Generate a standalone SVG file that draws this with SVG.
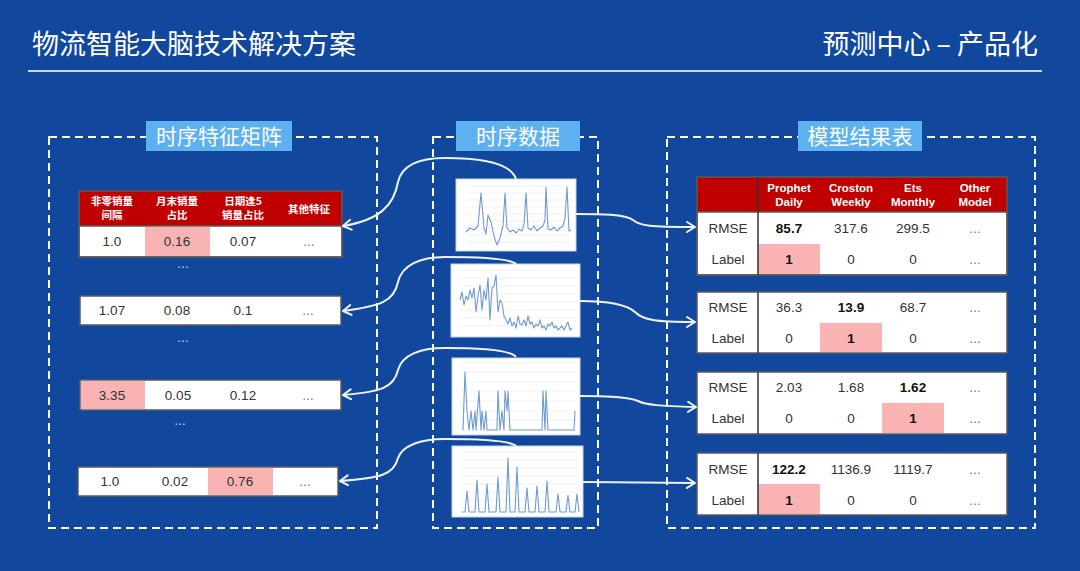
<svg xmlns="http://www.w3.org/2000/svg" width="1080" height="571" viewBox="0 0 1080 571">
<defs>
<style>
.title{font-family:"Noto Sans CJK SC","Liberation Sans",sans-serif;font-size:27px;fill:#ffffff}
.dash{fill:none;stroke:#ffffff;stroke-width:2;stroke-dasharray:8 5}
.lbl{fill:#5cb1ee}
.lbltxt{font-family:"Noto Sans CJK SC","Liberation Sans",sans-serif;font-size:21px;fill:#ffffff;text-anchor:middle}
.tbl{fill:#ffffff;stroke:#5a5a5a;stroke-width:1.5}
.hdr{fill:#c00000}
.pink{fill:#f9b3b3}
.htxt{font-family:"Noto Sans CJK SC","Liberation Sans",sans-serif;font-size:10.5px;font-weight:bold;fill:#ffffff;text-anchor:middle}
.rhtxt{font-family:"Liberation Sans",Arial,sans-serif;font-size:11.5px;font-weight:bold;fill:#ffffff;text-anchor:middle}
.val{font-family:"Liberation Sans",Arial,sans-serif;font-size:13.5px;fill:#333333;text-anchor:middle}
.b{font-weight:bold;fill:#111111}
.dots{font-family:"Liberation Sans",Arial,sans-serif;font-size:12px;fill:#666666;text-anchor:middle}
.wdots{font-family:"Liberation Sans",Arial,sans-serif;font-size:12px;fill:#cfe0f7;text-anchor:middle}
.chart{fill:#ffffff;stroke:#c8d4e6;stroke-width:1}
.grid{stroke:#e6e6e6;stroke-width:0.6}
.line{fill:none;stroke:#6f9bd1;stroke-width:1.1;stroke-linejoin:round}
.conn{fill:none;stroke:#eef3fb;stroke-width:2}
.div{stroke:#333333;stroke-width:1.5}
</style>
<marker id="arr" markerWidth="12" markerHeight="12" refX="9" refY="6" orient="auto" markerUnits="userSpaceOnUse">
<path d="M1,1 L9,6 L1,11" fill="none" stroke="#eef3fb" stroke-width="2" stroke-linecap="round" stroke-linejoin="round"/>
</marker>
</defs>
<rect x="0" y="0" width="1080" height="571" fill="#11489e"/>

<g id="header">
<text class="title" x="32" y="54">物流智能大脑技术解决方案</text>
<text class="title" x="1038" y="54" text-anchor="end">预测中心 – 产品化</text>
<line x1="28" y1="71" x2="1042" y2="71" stroke="#c9d9f2" stroke-width="2"/>
</g>

<g id="panel-features">
<rect class="dash" x="49" y="137" width="328" height="391"/>
<rect class="lbl" x="146" y="121" width="146" height="30"/>
<text class="lbltxt" x="219" y="143.5">时序特征矩阵</text>
</g>
<g id="panel-series">
<rect class="dash" x="433" y="137" width="165" height="391"/>
<rect class="lbl" x="456" y="121" width="124" height="30"/>
<text class="lbltxt" x="518" y="143.5">时序数据</text>
</g>
<g id="panel-results">
<rect class="dash" x="667" y="137" width="368" height="391"/>
<rect class="lbl" x="798" y="121" width="124" height="30"/>
<text class="lbltxt" x="860" y="143.5">模型结果表</text>
</g>

<g id="feature-table-1">
<rect class="hdr" x="79" y="191" width="263" height="35"/>
<rect class="tbl" x="79" y="226" width="263" height="31"/>
<rect class="pink" x="145" y="227" width="65" height="29"/>
<rect x="79" y="191" width="263" height="66" fill="none" stroke="#5a5a5a" stroke-width="1.5"/>
<text class="htxt" x="112" y="205">非零销量</text><text class="htxt" x="112" y="219">间隔</text>
<text class="htxt" x="177" y="205">月末销量</text><text class="htxt" x="177" y="219">占比</text>
<text class="htxt" x="243" y="205">日期逢5</text><text class="htxt" x="243" y="219">销量占比</text>
<text class="htxt" x="309" y="213">其他特征</text>
<text class="val" x="112" y="246">1.0</text><text class="val" x="177" y="246">0.16</text><text class="val" x="243" y="246">0.07</text><text class="dots" x="309" y="246">…</text>
<text class="wdots" x="183" y="268">…</text>
</g>
<g id="feature-table-2">
<rect class="tbl" x="80" y="296" width="261" height="29"/>
<text class="val" x="112" y="315">1.07</text><text class="val" x="177" y="315">0.08</text><text class="val" x="243" y="315">0.1</text><text class="dots" x="308" y="315">…</text>
<text class="wdots" x="183" y="342">…</text>
</g>
<g id="feature-table-3">
<rect class="tbl" x="80" y="380" width="261" height="30"/>
<rect class="pink" x="81" y="381" width="64" height="28"/>
<text class="val" x="112" y="400">3.35</text><text class="val" x="178" y="400">0.05</text><text class="val" x="243" y="400">0.12</text><text class="dots" x="308" y="400">…</text>
<text class="wdots" x="180" y="425">…</text>
</g>
<g id="feature-table-4">
<rect class="tbl" x="78" y="467" width="260" height="29"/>
<rect class="pink" x="208" y="468" width="65" height="27"/>
<text class="val" x="110" y="486">1.0</text><text class="val" x="175" y="486">0.02</text><text class="val" x="240" y="486">0.76</text><text class="dots" x="305" y="486">…</text>
</g>

<g id="chart-1">
<rect class="chart" x="456" y="179" width="120" height="72"/>
<g class="grid"><line x1="466" y1="186" x2="572" y2="186"/><line x1="466" y1="193" x2="572" y2="193"/><line x1="466" y1="200" x2="572" y2="200"/><line x1="466" y1="207" x2="572" y2="207"/><line x1="466" y1="214" x2="572" y2="214"/><line x1="466" y1="221" x2="572" y2="221"/><line x1="466" y1="228" x2="572" y2="228"/><line x1="466" y1="235" x2="572" y2="235"/><line x1="466" y1="242" x2="572" y2="242"/></g>
<polyline class="line" points="466,232 470,228 474,230 478,226 481,193 484,228 486,234 488,215 491,222 494,236 497,245 500,238 503,226 505,193 507,228 510,232 513,230 516,233 519,229 522,231 524,224 526,193 528,228 531,230 534,226 537,231 540,228 543,226 545,220 546,187 548,229 551,230 554,227 557,231 560,228 563,226 565,218 567,187 569,231 571,230"/>
</g>
<g id="chart-2">
<rect class="chart" x="451" y="264" width="129" height="73"/>
<g class="grid"><line x1="460" y1="270" x2="577" y2="270"/><line x1="460" y1="278" x2="577" y2="278"/><line x1="460" y1="286" x2="577" y2="286"/><line x1="460" y1="294" x2="577" y2="294"/><line x1="460" y1="302" x2="577" y2="302"/><line x1="460" y1="310" x2="577" y2="310"/><line x1="460" y1="318" x2="577" y2="318"/><line x1="460" y1="326" x2="577" y2="326"/></g>
<polyline class="line" points="460,300 462,292 464,305 466,296 468,300 470,290 472,298 474,288 476,312 478,296 480,285 482,310 484,290 486,300 488,278 490,320 492,288 494,286 496,275 498,312 500,300 502,303 504,316 506,320 508,324 510,318 512,326 514,322 516,328 518,316 520,324 522,325 524,320 526,326 528,316 530,324 532,322 534,328 536,324 538,326 540,320 542,328 544,326 546,330 548,324 550,326 552,322 554,328 556,326 558,330 560,328 562,326 564,330 566,326 568,322 570,330 572,328"/>
</g>
<g id="chart-3">
<rect class="chart" x="452" y="358" width="128" height="77"/>
<g class="grid"><line x1="462" y1="363" x2="576" y2="363"/><line x1="462" y1="372" x2="576" y2="372"/><line x1="462" y1="382" x2="576" y2="382"/><line x1="462" y1="391" x2="576" y2="391"/><line x1="462" y1="401" x2="576" y2="401"/><line x1="462" y1="411" x2="576" y2="411"/><line x1="462" y1="420" x2="576" y2="420"/><line x1="462" y1="430" x2="576" y2="430"/></g>
<polyline class="line" points="463,430 465,372 467,411 469,430 471,411 473,430 475,411 476,430 479,391 481,430 482,411 484,430 486,411 487,430 497,430 498,391 500,430 502,411 504,430 505,391 507,411 508,391 510,430 542,430 543,391 545,430 546,391 548,430 574,430 575,411"/>
</g>
<g id="chart-4">
<rect class="chart" x="452" y="446" width="131" height="71"/>
<g class="grid"><line x1="462" y1="452" x2="579" y2="452"/><line x1="462" y1="460" x2="579" y2="460"/><line x1="462" y1="468" x2="579" y2="468"/><line x1="462" y1="476" x2="579" y2="476"/><line x1="462" y1="484" x2="579" y2="484"/><line x1="462" y1="492" x2="579" y2="492"/><line x1="462" y1="500" x2="579" y2="500"/><line x1="462" y1="508" x2="579" y2="508"/></g>
<polyline class="line" points="462,512 465,512 467,491 469,512 475,512 477,480 479,512 485,512 487,484 489,512 496,512 498,477 500,512 506,512 508,458 510,512 515,512 517,467 519,512 525,512 527,488 529,512 535,512 537,486 539,512 545,512 547,481 549,512 556,512 558,494 560,512 566,512 568,495 570,512 575,512 577,494 579,512"/>
</g>

<g id="result-table-1">
<rect class="hdr" x="697" y="177" width="310" height="35"/>
<rect class="tbl" x="697" y="212" width="310" height="63"/>
<rect class="pink" x="758" y="244" width="62" height="30"/>
<rect x="697" y="177" width="310" height="98" fill="none" stroke="#5a5a5a" stroke-width="1.5"/>
<line class="div" x1="758" y1="177" x2="758" y2="275"/>
<text class="rhtxt" x="789" y="192">Prophet</text><text class="rhtxt" x="789" y="206">Daily</text>
<text class="rhtxt" x="851" y="192">Croston</text><text class="rhtxt" x="851" y="206">Weekly</text>
<text class="rhtxt" x="913" y="192">Ets</text><text class="rhtxt" x="913" y="206">Monthly</text>
<text class="rhtxt" x="975" y="192">Other</text><text class="rhtxt" x="975" y="206">Model</text>
<text class="val" x="728" y="233">RMSE</text><text class="val b" x="789" y="233">85.7</text><text class="val" x="851" y="233">317.6</text><text class="val" x="913" y="233">299.5</text><text class="dots" x="975" y="233">…</text>
<text class="val" x="728" y="264">Label</text><text class="val b" x="789" y="264">1</text><text class="val" x="851" y="264">0</text><text class="val" x="913" y="264">0</text><text class="dots" x="975" y="264">…</text>
</g>
<g id="result-table-2">
<rect class="tbl" x="697" y="292" width="310" height="61"/>
<rect class="pink" x="820" y="323" width="62" height="29"/>
<line class="div" x1="758" y1="292" x2="758" y2="353"/>
<text class="val" x="728" y="312">RMSE</text><text class="val" x="789" y="312">36.3</text><text class="val b" x="851" y="312">13.9</text><text class="val" x="913" y="312">68.7</text><text class="dots" x="975" y="312">…</text>
<text class="val" x="728" y="343">Label</text><text class="val" x="789" y="343">0</text><text class="val b" x="851" y="343">1</text><text class="val" x="913" y="343">0</text><text class="dots" x="975" y="343">…</text>
</g>
<g id="result-table-3">
<rect class="tbl" x="697" y="372" width="310" height="62"/>
<rect class="pink" x="882" y="403" width="62" height="30"/>
<line class="div" x1="758" y1="372" x2="758" y2="434"/>
<text class="val" x="728" y="392">RMSE</text><text class="val" x="789" y="392">2.03</text><text class="val" x="851" y="392">1.68</text><text class="val b" x="913" y="392">1.62</text><text class="dots" x="975" y="392">…</text>
<text class="val" x="728" y="423">Label</text><text class="val" x="789" y="423">0</text><text class="val" x="851" y="423">0</text><text class="val b" x="913" y="423">1</text><text class="dots" x="975" y="423">…</text>
</g>
<g id="result-table-4">
<rect class="tbl" x="697" y="453" width="310" height="62"/>
<rect class="pink" x="758" y="484" width="62" height="30"/>
<line class="div" x1="758" y1="453" x2="758" y2="515"/>
<text class="val" x="728" y="474">RMSE</text><text class="val b" x="789" y="474">122.2</text><text class="val" x="851" y="474">1136.9</text><text class="val" x="913" y="474">1119.7</text><text class="dots" x="975" y="474">…</text>
<text class="val" x="728" y="505">Label</text><text class="val b" x="789" y="505">1</text><text class="val" x="851" y="505">0</text><text class="val" x="913" y="505">0</text><text class="dots" x="975" y="505">…</text>
</g>

<g id="connectors">
<path class="conn" marker-end="url(#arr)" d="M516,179 C510,160 470,158 445,158 C420,158 402,165 398,182 C394,205 380,220 343,226"/>
<path class="conn" marker-end="url(#arr)" d="M516,264 C510,258 470,257 445,257 C420,257 402,265 398,282 C394,302 380,306 343,311"/>
<path class="conn" marker-end="url(#arr)" d="M516,357 C510,349 470,348 445,348 C420,348 402,355 398,370 C394,388 380,392 343,395"/>
<path class="conn" marker-end="url(#arr)" d="M516,446 C510,440 470,439 445,439 C420,439 402,446 398,458 C394,475 380,478 340,481"/>
<path class="conn" marker-end="url(#arr)" d="M576,214 C600,214 625,214 633,220 C640,226 650,227 695,227"/>
<path class="conn" marker-end="url(#arr)" d="M580,301 C600,301 625,303 635,312 C643,320 655,322 695,322"/>
<path class="conn" marker-end="url(#arr)" d="M580,396 C600,396 628,396 638,401 C646,405 660,406 696,407"/>
<path class="conn" marker-end="url(#arr)" d="M583,482 L695,483"/>
</g>
</svg>
